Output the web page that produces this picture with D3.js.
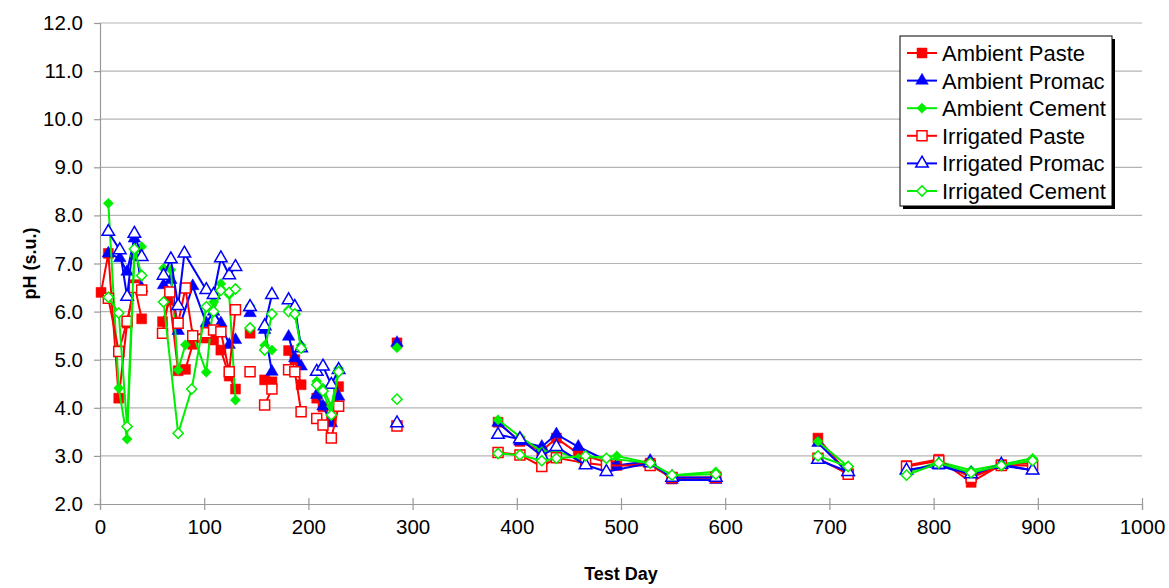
<!DOCTYPE html>
<html>
<head>
<meta charset="utf-8">
<style>
body { margin: 0px; background: #fff; }
text { font-family: "Liberation Sans", Arial, sans-serif; }
</style>
</head>
<body>
<div id="chart"></div>
<script src="https://cdn.jsdelivr.net/npm/d3@7"></script>
<script>
'use strict';

// [test day, pH]; null = gap in the line
var ambientPaste = [
  [1,6.40],[8,7.21],[18,4.20],[26,5.76],[33,6.56],[40,5.85], null,
  [60,5.79],[67,6.24],[75,4.77],[82,4.80],[89,5.32],[102,5.45],[109,5.41],[116,5.20],[124,4.66],[130,4.39], null,
  [144,5.55], null,
  [158,4.58],[165,4.54], null,
  [181,5.19],[187,5.00],[193,4.48], null,
  [208,4.20],[214,4.02],[222,3.75],[229,4.44], null,
  [285,5.35], null,
  [382,3.70],[403,3.30],[424,3.10],[438,3.37],[459,3.05],[496,2.80],[528,2.85],[549,2.52],[591,2.55], null,
  [689,3.37],[718,2.63], null,
  [774,2.80],[805,2.93],[836,2.45],[865,2.82],[895,2.85]
];
var ambientPromac = [
  [8,7.21],[19,7.11],[26,6.83],[33,7.52],[40,6.49], null,
  [61,6.55],[68,6.66],[75,5.60],[89,6.53],[102,5.76],[109,6.00],[116,5.76],[124,5.31],[130,5.41], null,
  [144,5.97], null,
  [158,5.62],[165,4.75], null,
  [181,5.48],[187,5.03],[193,4.86], null,
  [208,4.27],[214,4.03],[222,3.68],[229,4.23], null,
  [285,5.35], null,
  [382,3.69],[403,3.30],[424,3.19],[438,3.45],[459,3.19],[496,2.80],[528,2.90],[549,2.50],[591,2.50], null,
  [689,3.27],[718,2.65], null,
  [774,2.70],[805,2.80],[836,2.60],[865,2.80],[895,2.70]
];
var ambientCement = [
  [8,8.25],[18,4.41],[26,3.35],[33,7.15],[40,7.35], null,
  [61,6.90],[68,6.87],[75,4.79],[82,5.31],[89,5.54],[102,4.74],[109,6.20],[116,6.58],[124,6.35],[130,4.16], null,
  [144,6.12], null,
  [158,5.30],[165,5.20], null,
  [181,6.04],[187,5.95],[193,5.30], null,
  [208,4.55],[214,4.41],[222,4.03],[229,4.82], null,
  [285,5.25], null,
  [382,3.75],[403,3.40],[424,3.09],[438,3.09],[459,2.95],[496,3.00],[528,2.85],[549,2.60],[591,2.67], null,
  [689,3.30],[718,2.78], null,
  [774,2.65],[805,2.88],[836,2.70],[865,2.82],[895,2.95]
];
var irrigatedPaste = [
  [8,6.28],[18,5.17],[26,5.80],[33,6.50],[40,6.45], null,
  [60,5.55],[67,6.41],[75,5.76],[82,6.49],[89,5.50],[102,5.56],[109,5.62],[116,5.58],[124,4.75],[130,6.04], null,
  [144,4.75], null,
  [158,4.06],[165,4.39], null,
  [181,4.79],[187,4.75],[193,3.92], null,
  [208,3.78],[214,3.64],[222,3.37],[229,4.03], null,
  [285,3.62], null,
  [382,3.07],[403,3.02],[424,2.78],[438,2.96],[466,2.85],[486,2.80],[528,2.80],[549,2.55],[591,2.55], null,
  [689,2.95],[718,2.62], null,
  [774,2.78],[805,2.90],[836,2.55],[865,2.80],[895,2.80]
];
var irrigatedPromac = [
  [8,7.66],[19,7.28],[26,6.31],[33,7.62],[40,7.14], null,
  [61,6.75],[68,7.09],[75,6.12],[81,7.21],[102,6.45],[109,6.35],[116,7.11],[124,6.76],[130,6.93], null,
  [144,6.10], null,
  [158,5.70],[165,6.35], null,
  [181,6.24],[187,6.10],[193,5.24], null,
  [208,4.75],[214,4.86],[222,4.48],[229,4.79], null,
  [285,3.68], null,
  [382,3.44],[403,3.35],[424,3.00],[438,3.19],[466,2.81],[486,2.67],[528,2.85],[549,2.55],[591,2.55], null,
  [689,2.92],[718,2.67], null,
  [774,2.70],[805,2.82],[836,2.62],[865,2.82],[895,2.70]
];
var irrigatedCement = [
  [8,6.30],[18,5.97],[26,3.61],[33,7.30],[40,6.75], null,
  [61,6.20],[75,3.47],[88,4.39],[102,6.10],[109,6.00],[116,6.44],[124,6.40],[130,6.47], null,
  [144,5.66], null,
  [158,5.20],[165,5.95], null,
  [181,6.00],[187,5.95],[193,5.24], null,
  [208,4.48],[214,4.35],[222,3.85],[229,4.75], null,
  [285,4.18], null,
  [382,3.05],[403,3.02],[424,2.90],[438,2.95],[466,3.00],[486,2.95],[528,2.85],[549,2.60],[591,2.62], null,
  [689,3.00],[718,2.78], null,
  [774,2.60],[805,2.85],[836,2.65],[865,2.80],[895,2.90]
];

var seriesNames = ['Ambient Paste', 'Ambient Promac', 'Ambient Cement', 'Irrigated Paste', 'Irrigated Promac', 'Irrigated Cement'];
var seriesData = [ambientPaste, ambientPromac, ambientCement, irrigatedPaste, irrigatedPromac, irrigatedCement];
var seriesColors = ['#ff0000', '#0000ff', '#00ee00', '#ff0000', '#0000ff', '#00ee00'];
var seriesShapes = ['square', 'triangle', 'diamond', 'square', 'triangle', 'diamond'];
var seriesFilled = [true, true, true, false, false, false];

var xTicks = d3.range(0, 1001, 100);
var yTicks = d3.range(2, 12.01, 1);

var W = 1169, H = 588;
var x = d3.scaleLinear().domain([0, 1000]).range([100, 1142]);
var y = d3.scaleLinear().domain([2, 12]).range([504, 23]);

var svg = d3.select('#chart').append('svg').attr('width', W).attr('height', H);

// gridlines
svg.append('g').selectAll('line').data(yTicks.slice(1)).join('line')
  .attr('x1', x(0)).attr('x2', x(1000))
  .attr('y1', d => y(d)).attr('y2', d => y(d))
  .attr('stroke', '#b4b4b4').attr('stroke-width', 1.2);

var yAxis = svg.append('g').attr('transform', 'translate(' + x(0) + ',0)')
  .call(d3.axisLeft(y).tickValues(yTicks).tickFormat(d3.format('.1f')).tickSizeOuter(0).tickSize(6).tickPadding(11));
var xAxis = svg.append('g').attr('transform', 'translate(0,' + y(2) + ')')
  .call(d3.axisBottom(x).tickValues(xTicks).tickFormat(d3.format('d')).tickSizeOuter(0).tickSize(6).tickPadding(9));
xAxis.selectAll('.tick line').attr('y1', -6);
[yAxis, xAxis].forEach(function(a) {
  a.select('.domain').attr('stroke', '#999').attr('stroke-width', 1.2);
  a.selectAll('.tick line').attr('stroke', '#999').attr('stroke-width', 1.2);
  a.selectAll('.tick text').attr('fill', '#000').style('font-size', '20.5px');
});

svg.append('text').attr('x', x(500)).attr('y', 580).attr('text-anchor', 'middle')
  .style('font-size', '18px').style('font-weight', 'bold').text('Test Day');
svg.append('text').attr('transform', 'translate(36,' + y(7) + ') rotate(-90)').attr('text-anchor', 'middle')
  .style('font-size', '18px').style('font-weight', 'bold').text('pH (s.u.)');

function symbolPath(shape) {
  if (shape === 'square') return d3.symbol(d3.symbolSquare, 100)();
  if (shape === 'triangle') return d3.symbol(d3.symbolTriangle, 68)();
  return d3.symbol(d3.symbolSquare, 52)();
}
function symbolRot(shape) { return shape === 'diamond' ? ' rotate(45)' : ''; }

var line = d3.line().defined(d => d !== null).x(d => x(d[0])).y(d => y(d[1]));

seriesData.forEach(function(data, i) {
  var g = svg.append('g');
  g.append('path').datum(data).attr('d', line)
    .attr('fill', 'none').attr('stroke', seriesColors[i]).attr('stroke-width', 2);
  g.selectAll('path.m').data(data.filter(d => d !== null)).join('path').attr('class', 'm')
    .attr('d', symbolPath(seriesShapes[i]))
    .attr('transform', d => 'translate(' + x(d[0]) + ',' + y(d[1]) + ')' + symbolRot(seriesShapes[i]))
    .attr('fill', seriesFilled[i] ? seriesColors[i] : '#fff')
    .attr('stroke', seriesColors[i]).attr('stroke-width', seriesFilled[i] ? 0.5 : 1.5);
});

// legend
var lg = svg.append('g').attr('transform', 'translate(900,36)');
lg.append('rect').attr('x', 3).attr('y', 3).attr('width', 212).attr('height', 170).attr('fill', '#000');
lg.append('rect').attr('x', 0).attr('y', 0).attr('width', 212).attr('height', 170)
  .attr('fill', '#fff').attr('stroke', '#000').attr('stroke-width', 1);
seriesNames.forEach(function(name, i) {
  var row = lg.append('g').attr('transform', 'translate(0,' + (17 + i * 27.6) + ')');
  row.append('line').attr('x1', 7).attr('x2', 37).attr('y1', 0).attr('y2', 0)
    .attr('stroke', seriesColors[i]).attr('stroke-width', 2);
  row.append('path').attr('d', symbolPath(seriesShapes[i]))
    .attr('transform', 'translate(22,0)' + symbolRot(seriesShapes[i]))
    .attr('fill', seriesFilled[i] ? seriesColors[i] : '#fff')
    .attr('stroke', seriesColors[i]).attr('stroke-width', seriesFilled[i] ? 0.5 : 1.5);
  row.append('text').attr('x', 42).attr('y', 8).style('font-size', '22px').text(name);
});
</script>
</body>
</html>
